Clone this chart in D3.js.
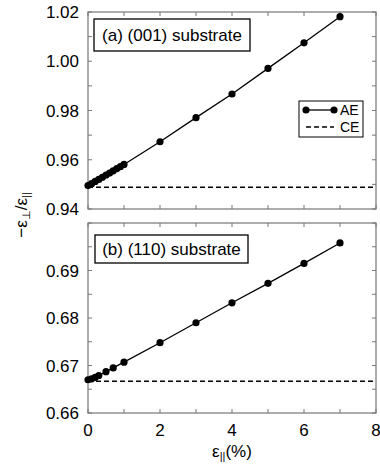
<!DOCTYPE html>
<html>
<head>
<meta charset="utf-8">
<script src="https://cdn.jsdelivr.net/npm/d3@7"></script>
<style>
  body { margin: 0; background: #fff; }
  svg { display: block; font-family: "Liberation Sans", Arial, sans-serif; }
</style>
</head>
<body>
<svg id="chart" width="380" height="468"></svg>
<script>
// data
const strainA = [0, 0.1, 0.2, 0.3, 0.4, 0.5, 0.6, 0.7, 0.8, 0.9, 1, 2, 3, 4, 5, 6, 7]
const ratioA = [0.9495, 0.9503, 0.9512, 0.9520, 0.9529, 0.9538, 0.9546, 0.9555, 0.9564, 0.9572, 0.9581, 0.9673, 0.9771, 0.9867, 0.9971, 1.0075, 1.0181]
const ceA = 0.9488

const strainB = [0, 0.1, 0.2, 0.3, 0.5, 0.7, 1, 2, 3, 4, 5, 6, 7]
const ratioB = [0.6670, 0.6672, 0.6675, 0.6679, 0.6687, 0.6695, 0.6707, 0.6748, 0.6790, 0.6832, 0.6873, 0.6915, 0.6958]
const ceB = 0.6667

const xTicks = [0, 2, 4, 6, 8]
const yTicksA = [0.94, 0.96, 0.98, 1.00, 1.02]
const yTicksB = [0.66, 0.67, 0.68, 0.69]

const svg = d3.select('#chart')
const left = 88, right = 376
const frameColor = '#777'

const x = d3.scaleLinear().domain([0, 8]).range([left, right])

const panels = [
  { top: 12, bottom: 209, domain: [0.94, 1.02], minor: 0.01, ticks: yTicksA, fmt: d3.format('.2f'),
    xs: strainA, ys: ratioA, ce: ceA, label: '(a) (001) substrate', box: [94, 19, 250, 51], legend: true },
  { top: 223, bottom: 413, domain: [0.66, 0.70], minor: 0.005, ticks: yTicksB, fmt: d3.format('.2f'),
    xs: strainB, ys: ratioB, ce: ceB, label: '(b) (110) substrate', box: [95, 235, 248, 263], legend: false, xLabels: true }
]

panels.forEach(p => {
  const y = d3.scaleLinear().domain(p.domain).range([p.bottom, p.top])
  const g = svg.append('g')

  // minor ticks on all four sides, pointing inward
  const yMinor = d3.range(p.domain[0], p.domain[1] + 1e-9, p.minor)
  const xMinor = d3.range(0, 8.001, 1)
  const tl = 4
  yMinor.forEach(v => {
    g.append('line').attr('x1', left).attr('x2', left + tl).attr('y1', y(v)).attr('y2', y(v))
      .attr('stroke', frameColor).attr('stroke-width', 1)
    g.append('line').attr('x1', right).attr('x2', right - tl).attr('y1', y(v)).attr('y2', y(v))
      .attr('stroke', frameColor).attr('stroke-width', 1)
  })
  xMinor.forEach(v => {
    g.append('line').attr('x1', x(v)).attr('x2', x(v)).attr('y1', p.bottom).attr('y2', p.bottom - tl)
      .attr('stroke', frameColor).attr('stroke-width', 1)
    g.append('line').attr('x1', x(v)).attr('x2', x(v)).attr('y1', p.top).attr('y2', p.top + tl)
      .attr('stroke', frameColor).attr('stroke-width', 1)
  })

  // frame
  g.append('rect')
    .attr('x', left).attr('y', p.top)
    .attr('width', right - left).attr('height', p.bottom - p.top)
    .attr('fill', 'none').attr('stroke', frameColor).attr('stroke-width', 1.2)

  // y tick labels
  g.selectAll('text.ytick').data(p.ticks).enter().append('text')
    .attr('class', 'ytick')
    .attr('x', left - 9).attr('y', d => y(d) + 6)
    .attr('text-anchor', 'end')
    .style('font-size', '17px')
    .text(d => p.fmt(d))

  // CE dashed line
  g.append('line')
    .attr('x1', x(0)).attr('x2', x(8))
    .attr('y1', y(p.ce)).attr('y2', y(p.ce))
    .attr('stroke', '#000').attr('stroke-width', 1.5)
    .attr('stroke-dasharray', '5,3')

  // AE line + markers
  const pts = p.xs.map((d, i) => [d, p.ys[i]])
  g.append('path')
    .datum(pts)
    .attr('fill', 'none').attr('stroke', '#000').attr('stroke-width', 1.3)
    .attr('d', d3.line().x(d => x(d[0])).y(d => y(d[1])))
  g.selectAll('circle').data(pts).enter().append('circle')
    .attr('cx', d => x(d[0])).attr('cy', d => y(d[1]))
    .attr('r', 3.6).attr('fill', '#000')

  // panel label box
  const [bx0, by0, bx1, by1] = p.box
  g.append('rect')
    .attr('x', bx0).attr('y', by0).attr('width', bx1 - bx0).attr('height', by1 - by0)
    .attr('fill', '#fff').attr('stroke', '#000').attr('stroke-width', 1.3)
  g.append('text')
    .attr('x', (bx0 + bx1) / 2).attr('y', (by0 + by1) / 2 + 6)
    .attr('text-anchor', 'middle')
    .style('font-size', '17px')
    .text(p.label)

  if (p.legend) {
    const lg = g.append('g')
    lg.append('rect')
      .attr('x', 299).attr('y', 101).attr('width', 64).attr('height', 36)
      .attr('fill', '#fff').attr('stroke', '#000').attr('stroke-width', 1)
    lg.append('line').attr('x1', 306).attr('x2', 334).attr('y1', 110).attr('y2', 110)
      .attr('stroke', '#000').attr('stroke-width', 1.3)
    lg.selectAll('circle').data([306, 334]).enter().append('circle')
      .attr('cx', d => d).attr('cy', 110).attr('r', 3.6).attr('fill', '#000')
    lg.append('line').attr('x1', 306).attr('x2', 334).attr('y1', 127).attr('y2', 127)
      .attr('stroke', '#000').attr('stroke-width', 1.5).attr('stroke-dasharray', '5,3')
    lg.append('text').attr('x', 340).attr('y', 115).style('font-size', '14px').text('AE')
    lg.append('text').attr('x', 340).attr('y', 132).style('font-size', '14px').text('CE')
  }

  if (p.xLabels) {
    g.selectAll('text.xtick').data(xTicks).enter().append('text')
      .attr('class', 'xtick')
      .attr('x', d => x(d)).attr('y', p.bottom + 23)
      .attr('text-anchor', 'middle')
      .style('font-size', '17px')
      .text(d => d)
  }
})

// x axis title
const xt = svg.append('text')
  .attr('x', 232).attr('y', 457)
  .attr('text-anchor', 'middle')
  .style('font-size', '17px')
xt.append('tspan').text('ε')
xt.append('tspan').attr('baseline-shift', '-30%').style('font-size', '11px').text('||')
xt.append('tspan').text('(%)')

// y axis title
const yt = svg.append('text')
  .attr('transform', 'translate(27,215) rotate(-90)')
  .attr('text-anchor', 'middle')
  .style('font-size', '17px')
yt.append('tspan').text('−ε')
yt.append('tspan').attr('baseline-shift', '-30%').style('font-size', '11px').text('⊥')
yt.append('tspan').text('/ε')
yt.append('tspan').attr('baseline-shift', '-30%').style('font-size', '11px').text('||')
</script>
</body>
</html>
